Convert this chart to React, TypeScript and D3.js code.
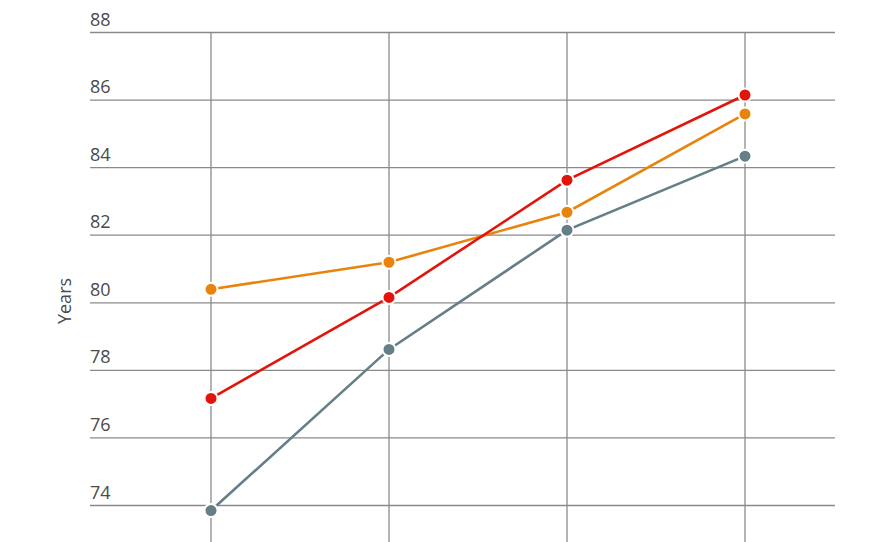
import React, { useEffect, useRef } from 'react';
import * as d3 from 'd3';

const periods = ['P1', 'P2', 'P3', 'P4'];
const yTicks = [74, 76, 78, 80, 82, 84, 86, 88];

const redValues = [77.17, 80.16, 83.63, 86.15];
const orangeValues = [80.4, 81.2, 82.68, 85.59];
const greyValues = [73.85, 78.62, 82.15, 84.34];

const seriesList = [
  { name: 'orange', values: orangeValues, color: '#e8830c' },
  { name: 'grey', values: greyValues, color: '#647f87' },
  { name: 'red', values: redValues, color: '#e3140c' },
];

const App: React.FC = () => {
  const svgRef = useRef<SVGSVGElement>(null);

  useEffect(() => {
    if (!svgRef.current) return;
    const width = 880;
    const height = 542;

    const svg = d3.select(svgRef.current);
    svg.selectAll('*').remove();
    svg.attr('width', width).attr('height', height);

    const x = d3.scalePoint<string>().domain(periods).range([211, 745]);
    const y = d3.scaleLinear().domain([74, 88]).range([505.5, 32.5]);

    const gridLeft = 90;
    const gridRight = 835;

    // horizontal grid + labels
    const hg = svg.append('g');
    hg.selectAll('line')
      .data(yTicks)
      .enter().append('line')
      .attr('x1', gridLeft)
      .attr('x2', gridRight)
      .attr('y1', d => y(d))
      .attr('y2', d => y(d))
      .attr('stroke', '#8a8a8a')
      .attr('stroke-width', 1.3);

    hg.selectAll('text')
      .data(yTicks)
      .enter().append('text')
      .attr('x', gridLeft)
      .attr('y', d => y(d) - 7)
      .attr('fill', '#4a4a4a')
      .style('font-family', '"Open Sans", sans-serif')
      .style('font-size', '18px')
      .text(d => d);

    // vertical grid
    svg.append('g')
      .selectAll('line')
      .data(periods)
      .enter().append('line')
      .attr('x1', d => x(d) || 0)
      .attr('x2', d => x(d) || 0)
      .attr('y1', y(88))
      .attr('y2', height)
      .attr('stroke', '#8a8a8a')
      .attr('stroke-width', 1.3);

    // axis title
    svg.append('text')
      .attr('transform', `translate(71,301) rotate(-90)`)
      .attr('text-anchor', 'middle')
      .attr('fill', '#4a4a4a')
      .style('font-family', '"Open Sans", sans-serif')
      .style('font-size', '18px')
      .text('Years');

    const line = d3.line<number>()
      .x((_, i) => x(periods[i]) || 0)
      .y(d => y(d));

    seriesList.forEach(s => {
      const g = svg.append('g');
      g.append('path')
        .datum(s.values)
        .attr('d', line)
        .attr('fill', 'none')
        .attr('stroke', s.color)
        .attr('stroke-width', 2.6);
      g.selectAll('circle')
        .data(s.values)
        .enter().append('circle')
        .attr('cx', (_, i) => x(periods[i]) || 0)
        .attr('cy', d => y(d))
        .attr('r', 6.5)
        .attr('fill', s.color)
        .attr('stroke', '#fff')
        .attr('stroke-width', 2);
    });
  }, []);

  return (
    <svg ref={svgRef} style={{ position: 'absolute', left: 0, top: 0, display: 'block' }}></svg>
  );
};

export default App;
